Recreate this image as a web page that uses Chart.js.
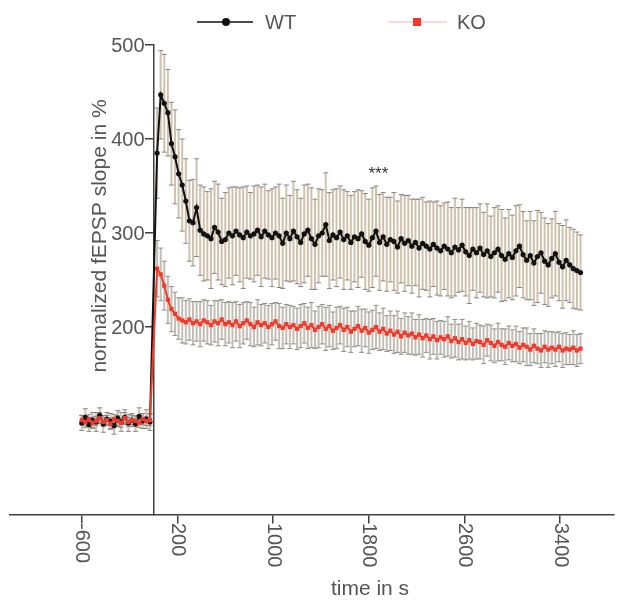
<!DOCTYPE html>
<html>
<head>
<meta charset="utf-8">
<script src="https://cdn.jsdelivr.net/npm/chart.js@4/dist/chart.umd.min.js"></script>
<style>
  html, body { margin: 0; padding: 0; background: #ffffff; }
  #wrap { width: 618px; height: 603px; }
</style>
</head>
<body>
<div id="wrap"><canvas id="c" width="618" height="603"></canvas></div>
<script>
// ---- data ----
const seriesNames = ['WT', 'KO'];
const xTitle = 'time in s';
const yTitle = 'normalized fEPSP slope in %';
const xTickValues = [-600, 200, 1000, 1800, 2600, 3400];
const yTickValues = [200, 300, 400, 500];
const starsLabel = '***';
const starsPos = [1880, 362];

const timeSec = [
  -600, -570, -540, -510, -480, -450, -420, -390, -360, -330,
  -300, -270, -240, -210, -180, -150, -120, -90, -60, -30,
  30, 60, 90, 120, 150, 180, 210, 240, 270, 300,
  330, 360, 390, 420, 450, 480, 510, 540, 570, 600,
  630, 660, 690, 720, 750, 780, 810, 840, 870, 900,
  930, 960, 990, 1020, 1050, 1080, 1110, 1140, 1170, 1200,
  1230, 1260, 1290, 1320, 1350, 1380, 1410, 1440, 1470, 1500,
  1530, 1560, 1590, 1620, 1650, 1680, 1710, 1740, 1770, 1800,
  1830, 1860, 1890, 1920, 1950, 1980, 2010, 2040, 2070, 2100,
  2130, 2160, 2190, 2220, 2250, 2280, 2310, 2340, 2370, 2400,
  2430, 2460, 2490, 2520, 2550, 2580, 2610, 2640, 2670, 2700,
  2730, 2760, 2790, 2820, 2850, 2880, 2910, 2940, 2970, 3000,
  3030, 3060, 3090, 3120, 3150, 3180, 3210, 3240, 3270, 3300,
  3330, 3360, 3390, 3420, 3450, 3480, 3510, 3540, 3570
];

const wtMean = [
  98, 104, 96, 101, 99, 106, 97, 102, 100, 95,
  103, 99, 104, 98, 101, 97, 105, 100, 102, 99,
  385, 447, 438, 428, 395, 381, 363, 351, 334, 313,
  311, 327, 303, 299, 297, 294, 306, 301, 291, 293,
  300, 297, 302, 298, 295, 301, 297, 299, 303, 296,
  302, 298, 295, 300, 297, 289, 300, 294, 302, 296,
  290, 299, 303, 294, 288, 297, 300, 309, 292, 298,
  295, 301, 293, 297, 290, 296, 294, 299, 291, 287,
  295, 302, 290, 296, 288, 293, 291, 285, 294, 289,
  292, 286, 290, 284, 289, 286, 283, 288, 284, 281,
  286, 283, 279, 285, 282, 287, 280, 276, 283, 279,
  284, 277, 281, 275, 279, 283, 276, 272, 278, 274,
  281, 286, 277, 271, 276, 268, 275, 279, 270, 266,
  273, 278, 269, 264, 271, 266, 262, 260, 258
];

const wtErr = [
  8, 9, 7, 8, 10, 8, 9, 7, 8, 9,
  8, 10, 8, 9, 7, 8, 9, 8, 10, 9,
  48, 47, 52, 46, 44, 50, 47, 49, 45, 43,
  46, 52, 48, 50, 47, 53, 49, 51, 46, 50,
  48, 52, 47, 50, 54, 49, 46, 51, 48, 53,
  50, 47, 52, 49, 55, 48, 51, 46, 53, 50,
  47, 52, 49, 54, 48, 50, 46, 55, 51, 48,
  52, 49, 53, 47, 50, 48, 52, 46, 51, 49,
  53, 48, 51, 47, 50, 45, 52, 49, 47, 51,
  48, 50, 46, 52, 49, 47, 51, 45, 50, 48,
  46, 50, 48, 52, 45, 49, 47, 51, 44, 48,
  47, 45, 50, 43, 48, 46, 49, 44, 47, 45,
  48, 44, 46, 42, 47, 45, 49, 43, 46, 44,
  42, 45, 41, 44, 43, 40, 42, 41, 40
];

const koMean = [
  101, 99, 102, 98, 100, 103, 99, 101, 97, 102,
  100, 98, 103, 99, 101, 100, 98, 102, 100, 101,
  262, 256, 244, 229, 219, 214, 209, 207, 205, 208,
  204, 206, 203, 207, 205, 202, 206, 204, 208, 203,
  205, 202, 206, 201, 204, 207, 203, 200, 205, 202,
  204, 200, 203, 206, 201, 199, 203, 200, 202, 198,
  201, 204, 199, 202, 197, 200, 203, 198, 201, 196,
  199, 202, 197, 200, 195, 198, 201, 196, 199, 194,
  197, 200, 195, 198, 193, 196, 192, 195, 190, 194,
  191, 193, 189, 192, 188, 191, 187, 190, 186, 189,
  187, 190, 185, 188, 184, 187, 183, 186, 182, 185,
  184, 181, 186, 183, 180, 184, 181, 179, 183, 180,
  182, 178, 181, 179, 176, 180, 177, 175, 179, 176,
  178, 176, 179, 175, 177, 176, 178, 175, 177
];

const koErr = [
  5, 6, 5, 6, 5, 6, 5, 5, 6, 5,
  6, 5, 6, 5, 5, 6, 5, 6, 5, 6,
  30, 28, 26, 25, 24, 23, 22, 24, 23, 22,
  23, 21, 24, 22, 23, 21, 22, 24, 21, 23,
  22, 24, 21, 23, 22, 20, 23, 21, 24, 22,
  21, 23, 22, 20, 24, 22, 21, 23, 20, 22,
  23, 21, 22, 24, 20, 22, 21, 23, 22, 20,
  22, 20, 23, 21, 22, 19, 21, 23, 20, 22,
  21, 23, 20, 22, 19, 21, 20, 22, 19, 21,
  20, 22, 19, 21, 20, 18, 21, 19, 20, 18,
  19, 21, 18, 20, 19, 21, 18, 20, 17, 19,
  18, 20, 17, 19, 18, 20, 17, 19, 18, 17,
  19, 17, 18, 20, 17, 18, 16, 18, 17, 19,
  17, 18, 16, 18, 17, 16, 18, 17, 16
];

// ---- styles ----
const FONT = '"Liberation Sans", Arial, Helvetica, sans-serif';
const TEXT_COLOR = '#555555';
const AXIS_COLOR = '#404040';
const WT_COLOR = '#111111';
const KO_COLOR = '#ef3b2c';

function toPoints(xs, ys) { return xs.map((x, i) => ({ x: x, y: ys[i] })); }

const errorSets = [
  { mean: wtMean, err: wtErr, bar: 'rgba(192,172,146,0.75)', cap: 'rgba(115,115,115,0.85)' },
  { mean: koMean, err: koErr, bar: 'rgba(168,162,150,0.70)', cap: 'rgba(125,128,120,0.85)' }
];

const decorPlugin = {
  id: 'decor',
  beforeDatasetsDraw(chart) {
    const ctx = chart.ctx, xs = chart.scales.x, ys = chart.scales.y;
    ctx.save();
    errorSets.forEach(es => {
      for (let i = 0; i < timeSec.length; i++) {
        const px = xs.getPixelForValue(timeSec[i]);
        const top = ys.getPixelForValue(es.mean[i] + es.err[i]);
        const bot = ys.getPixelForValue(es.mean[i] - es.err[i]);
        ctx.strokeStyle = es.bar;
        ctx.lineWidth = 2;
        ctx.beginPath(); ctx.moveTo(px, top); ctx.lineTo(px, bot); ctx.stroke();
        ctx.strokeStyle = es.cap;
        ctx.lineWidth = 1;
        ctx.beginPath();
        ctx.moveTo(px - 2.5, top); ctx.lineTo(px + 2.5, top);
        ctx.moveTo(px - 2.5, bot); ctx.lineTo(px + 2.5, bot);
        ctx.stroke();
      }
    });
    ctx.restore();
  },
  afterDraw(chart) {
    const ctx = chart.ctx, xs = chart.scales.x, ys = chart.scales.y;
    ctx.save();
    ctx.fillStyle = TEXT_COLOR;
    const axisY = ys.getPixelForValue(0);
    const axisX = xs.getPixelForValue(0);
    ctx.font = '20px ' + FONT;
    // y tick labels, left of the y axis
    ctx.textAlign = 'right';
    ctx.textBaseline = 'middle';
    ys.ticks.forEach(t => {
      ctx.fillText(String(t.value), axisX - 9, ys.getPixelForValue(t.value) + 1);
    });
    // x tick labels, rotated clockwise (reading top to bottom)
    xs.ticks.forEach(t => {
      const px = xs.getPixelForValue(t.value);
      ctx.save();
      ctx.translate(px, axisY + 8);
      ctx.rotate(Math.PI / 2);
      ctx.textAlign = 'left';
      ctx.textBaseline = 'middle';
      ctx.fillText(String(t.value), 0, 0);
      ctx.restore();
    });
    // axis titles
    ctx.font = '21px ' + FONT;
    ctx.textAlign = 'center';
    ctx.textBaseline = 'middle';
    ctx.fillText(xTitle, 370, 589);
    ctx.save();
    ctx.translate(100, 236);
    ctx.rotate(-Math.PI / 2);
    ctx.fillText(yTitle, 0, 0);
    ctx.restore();
    // significance stars
    ctx.font = '17px ' + FONT;
    ctx.fillStyle = '#333333';
    ctx.fillText(starsLabel, xs.getPixelForValue(starsPos[0]), ys.getPixelForValue(starsPos[1]));
    // legend
    const ly = 22;
    ctx.lineWidth = 1.5;
    ctx.strokeStyle = WT_COLOR;
    ctx.beginPath(); ctx.moveTo(197, ly); ctx.lineTo(253, ly); ctx.stroke();
    ctx.fillStyle = WT_COLOR;
    ctx.beginPath(); ctx.arc(226, ly, 4, 0, Math.PI * 2); ctx.fill();
    ctx.strokeStyle = 'rgba(239,59,44,0.25)';
    ctx.beginPath(); ctx.moveTo(388, ly); ctx.lineTo(447, ly); ctx.stroke();
    ctx.fillStyle = KO_COLOR;
    ctx.fillRect(413, ly - 4, 8, 8);
    ctx.fillStyle = TEXT_COLOR;
    ctx.font = '20px ' + FONT;
    ctx.textAlign = 'left';
    ctx.fillText(seriesNames[0], 265, ly + 1);
    ctx.fillText(seriesNames[1], 457, ly + 1);
    ctx.restore();
  }
};

new Chart(document.getElementById('c'), {
  type: 'line',
  data: {
    datasets: [
      {
        label: seriesNames[0],
        data: toPoints(timeSec, wtMean),
        borderColor: WT_COLOR,
        backgroundColor: WT_COLOR,
        borderWidth: 2,
        pointStyle: 'circle',
        pointRadius: 2.6,
        pointBorderWidth: 0,
        tension: 0,
        order: 2
      },
      {
        label: seriesNames[1],
        data: toPoints(timeSec, koMean),
        borderColor: KO_COLOR,
        backgroundColor: KO_COLOR,
        borderWidth: 2,
        pointStyle: 'rect',
        pointRadius: 3,
        pointBorderWidth: 0,
        tension: 0,
        order: 1
      }
    ]
  },
  options: {
    responsive: false,
    animation: false,
    events: [],
    layout: { padding: { left: 10, right: 2, top: 45, bottom: 88 } },
    plugins: { legend: { display: false }, tooltip: { enabled: false } },
    scales: {
      x: {
        type: 'linear',
        min: -1200,
        max: 3850,
        position: { y: 0 },
        afterBuildTicks: s => { s.ticks = xTickValues.map(v => ({ value: v })); },
        ticks: { display: false },
        grid: { display: true, drawOnChartArea: false, drawTicks: true, tickLength: 8, color: AXIS_COLOR, lineWidth: 1.5 },
        border: { display: true, color: AXIS_COLOR, width: 1.5 }
      },
      y: {
        type: 'linear',
        min: 0,
        max: 500,
        position: { x: 0 },
        afterBuildTicks: s => { s.ticks = yTickValues.map(v => ({ value: v })); },
        ticks: { display: false },
        grid: { display: true, drawOnChartArea: false, drawTicks: true, tickLength: 8, color: AXIS_COLOR, lineWidth: 1.5 },
        border: { display: true, color: AXIS_COLOR, width: 1.5 }
      }
    }
  },
  plugins: [decorPlugin]
});
</script>
</body>
</html>
